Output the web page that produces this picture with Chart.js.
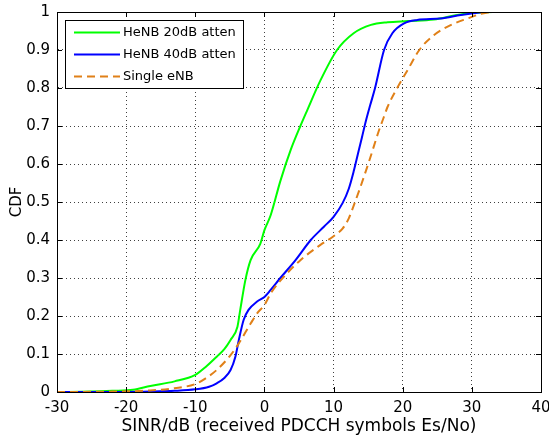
<!DOCTYPE html>
<html>
<head>
<meta charset="utf-8">
<script src="https://cdn.jsdelivr.net/npm/chart.js@4.4.1/dist/chart.umd.min.js"></script>
<style>
  html, body { margin: 0; padding: 0; background: #fff; }
  #myChart { display: block; }
</style>
</head>
<body>
<canvas id="myChart" width="549" height="439"></canvas>
<script>
// values
const seriesNames = ['HeNB 20dB atten', 'HeNB 40dB atten', 'Single eNB'];

const sinr20 = [-30, -25, -22, -19, -16.5, -13, -10, -8.5, -6.9, -5.8, -4.9, -3.9, -3.5, -2.75, -2, -0.6, 0, 0.9, 2.3, 3.8, 5.2, 6.2, 8.1, 10.5, 12.9, 15.4, 17.8, 20.7, 24.5, 27.9, 30.3, 33];
const cdf20 = [0, 0.001, 0.003, 0.006, 0.016, 0.028, 0.045, 0.066, 0.093, 0.113, 0.137, 0.172, 0.216, 0.295, 0.347, 0.39, 0.426, 0.465, 0.555, 0.637, 0.70, 0.742, 0.82, 0.9, 0.944, 0.966, 0.973, 0.976, 0.98, 0.992, 0.998, 1];

const sinr40 = [-30, -20, -16.5, -13, -10, -8, -6.9, -5.8, -4.9, -4.2, -3.7, -3, -2.3, -1.06, 0, 0.87, 2.3, 4.5, 6.7, 8.6, 10, 11.3, 12.2, 12.9, 13.5, 14.1, 14.7, 15.3, 16, 17.3, 18.5, 20.2, 22.1, 25.5, 28.4, 30.8, 32];
const cdf40 = [0, 0, 0.001, 0.003, 0.007, 0.014, 0.023, 0.037, 0.058, 0.093, 0.137, 0.19, 0.216, 0.238, 0.25, 0.268, 0.30, 0.347, 0.40, 0.435, 0.461, 0.497, 0.535, 0.58, 0.625, 0.67, 0.715, 0.755, 0.80, 0.9, 0.944, 0.97, 0.979, 0.983, 0.992, 0.998, 1];

const sinrSingle = [-30, -22, -16.5, -13, -10, -8.5, -6.9, -4.9, -3.7, -2, -1.06, 0, 1, 2.8, 5.2, 8.1, 10, 11.3, 12.2, 12.9, 13.7, 14.4, 15.1, 15.8, 16.5, 17.3, 17.8, 19.2, 20.7, 22.4, 24.5, 27, 29.4, 31.3, 32.8];
const cdfSingle = [0, 0.001, 0.004, 0.01, 0.021, 0.036, 0.058, 0.097, 0.128, 0.18, 0.207, 0.229, 0.262, 0.303, 0.347, 0.387, 0.41, 0.43, 0.457, 0.49, 0.53, 0.567, 0.605, 0.645, 0.685, 0.725, 0.75, 0.8, 0.847, 0.9, 0.939, 0.966, 0.983, 0.995, 1];

const xTickLabels = ['-30', '-20', '-10', '0', '10', '20', '30', '40'];
const yTickLabels = ['0', '0.1', '0.2', '0.3', '0.4', '0.5', '0.6', '0.7', '0.8', '0.9', '1'];

const FONT = 'DejaVu Sans';

function toPoints(xs, ys) {
  return xs.map((x, i) => ({ x: x, y: ys[i] }));
}

// setup block
const data = {
  datasets: [{
    label: seriesNames[0],
    data: toPoints(sinr20, cdf20),
    borderColor: '#00ff00',
    borderWidth: 2,
    order: 3
  }, {
    label: seriesNames[1],
    data: toPoints(sinr40, cdf40),
    borderColor: '#0000ff',
    borderWidth: 2,
    order: 2
  }, {
    label: seriesNames[2],
    data: toPoints(sinrSingle, cdfSingle),
    borderColor: 'rgb(224,128,24)',
    borderWidth: 2,
    borderDash: [8, 5],
    order: 1
  }]
};

// box, inward ticks and the legend, matlab style
const matlabBox = {
  id: 'matlabBox',
  afterDraw(chart) {
    const ctx = chart.ctx;
    const a = chart.chartArea;
    const xs = chart.scales.x, ys = chart.scales.y;
    ctx.save();
    ctx.strokeStyle = '#000';
    ctx.lineWidth = 1;
    ctx.setLineDash([]);
    ctx.strokeRect(Math.round(a.left) + 0.5, Math.round(a.top) + 0.5,
      Math.round(a.right - a.left), Math.round(a.bottom - a.top));
    ctx.beginPath();
    xs.ticks.forEach(t => {
      const px = Math.round(xs.getPixelForValue(t.value)) + 0.5;
      ctx.moveTo(px, a.bottom); ctx.lineTo(px, a.bottom - 5);
      ctx.moveTo(px, a.top); ctx.lineTo(px, a.top + 5);
    });
    ys.ticks.forEach(t => {
      const py = Math.round(ys.getPixelForValue(t.value)) + 0.5;
      ctx.moveTo(a.left, py); ctx.lineTo(a.left + 5, py);
      ctx.moveTo(a.right, py); ctx.lineTo(a.right - 5, py);
    });
    ctx.stroke();

    // legend
    const lx = 65.5, ly = 20.5, lw = 178, lh = 68;
    ctx.fillStyle = '#fff';
    ctx.fillRect(lx, ly, lw, lh);
    ctx.strokeRect(lx, ly, lw, lh);
    ctx.font = '13px "' + FONT + '"';
    ctx.textBaseline = 'middle';
    ctx.textAlign = 'left';
    chart.data.datasets.forEach((ds, i) => {
      const y = 32.5 + i * 22;
      ctx.strokeStyle = ds.borderColor;
      ctx.lineWidth = 2;
      ctx.setLineDash(ds.borderDash || []);
      ctx.beginPath();
      ctx.moveTo(74, y); ctx.lineTo(120, y);
      ctx.stroke();
      ctx.fillStyle = '#000';
      ctx.fillText(ds.label, 123, y);
    });
    ctx.restore();
  }
};

// config block
const config = {
  type: 'line',
  data,
  options: {
    responsive: false,
    animation: false,
    devicePixelRatio: 1,
    layout: { padding: { top: 12, right: 8, left: 0, bottom: 0 } },
    elements: {
      point: { radius: 0 },
      line: { cubicInterpolationMode: 'monotone', fill: false }
    },
    scales: {
      x: {
        type: 'linear',
        min: -30,
        max: 40,
        afterFit: s => { s.height = 47; s.paddingLeft = 0; s.paddingRight = 0; },
        ticks: {
          stepSize: 10,
          padding: 7,
          color: '#000',
          font: { family: FONT, size: 15 },
          maxRotation: 0,
          callback: (v, i) => xTickLabels[i]
        },
        grid: { color: 'rgba(0,0,0,0.75)', drawTicks: false },
        border: { display: true, color: '#000', dash: [1, 3] },
        title: {
          display: true,
          text: 'SINR/dB (received PDCCH symbols Es/No)',
          color: '#000',
          font: { family: FONT, size: 17 },
          padding: { top: 0, bottom: 2 }
        }
      },
      y: {
        min: 0,
        max: 1,
        afterFit: s => { s.width = 57; s.paddingTop = 0; s.paddingBottom = 0; },
        ticks: {
          stepSize: 0.1,
          padding: 7,
          color: '#000',
          font: { family: FONT, size: 15 },
          callback: (v, i) => yTickLabels[i]
        },
        grid: { color: 'rgba(0,0,0,0.75)', drawTicks: false },
        border: { display: true, color: '#000', dash: [1, 3] },
        title: {
          display: true,
          text: 'CDF',
          color: '#000',
          font: { family: FONT, size: 15 },
          padding: { top: 8, bottom: 0 }
        }
      }
    },
    plugins: {
      legend: { display: false },
      tooltip: { enabled: false }
    }
  },
  plugins: [matlabBox]
};

// render init block
const myChart = new Chart(
  document.getElementById('myChart'),
  config,
);
</script>
</body>
</html>
